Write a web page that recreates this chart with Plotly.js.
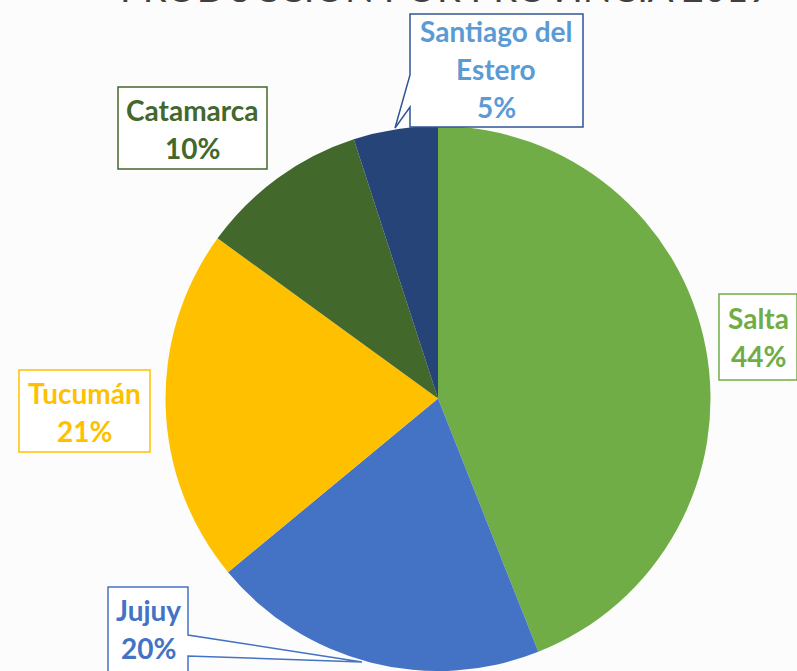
<!DOCTYPE html>
<html>
<head>
<meta charset="utf-8">
<script src="https://cdn.plot.ly/plotly-3.0.1.min.js"></script>
<style>html,body{margin:0;padding:0;background:#fcfcfc;}</style>
</head>
<body>
<div id="chart" style="width:797px;height:671px;"></div>
<script>
// ---- data ----
const provinces = ["Salta", "Jujuy", "Tucumán", "Catamarca", "Santiago del Estero"];
const shares = [44, 20, 21, 10, 5];
const labelLines = [["Salta"], ["Jujuy"], ["Tucumán"], ["Catamarca"], ["Santiago del", "Estero"]];
const titleText = "PRODUCCIÓN POR PROVINCIA 2019";

// ---- styles ----
const sliceColors = ["#70AD47", "#4472C4", "#FFC000", "#43682B", "#264478"];
const textColors  = ["#70AD47", "#4472C4", "#FFC000", "#43682B", "#5B9BD5"];
const boxColors   = ["#70AD47", "#4472C4", "#FFC000", "#43682B", "#2F5597"];

const W = 797, H = 671;
const px = x => x / W;
const py = y => 1 - y / H;

// box outlines (pixel geometry), with callouts where present
const boxes = [
  [[719,294],[797,294],[797,380],[719,380]],
  [[108,587],[188,587],[188,635],[362,662],[188,656],[188,676],[108,676]],
  [[19,370],[150,370],[150,452],[19,452]],
  [[118,87],[267,87],[267,169],[118,169]],
  [[410,14],[583,14],[583,127],[410,127],[410,107],[395,128],[410,75]]
];
const boxCenters = [[758,336],[148,628],[84,411],[192,128],[496,68]];
const lineGap = 38;

function pathOf(pts){
  return pts.map((p,i)=>(i?"L":"M")+px(p[0]).toFixed(5)+","+py(p[1]).toFixed(5)).join(" ")+" Z";
}

const shapes = boxes.map((pts,i)=>({
  type:"path", xref:"paper", yref:"paper", path:pathOf(pts),
  fillcolor:"#ffffff", line:{color:boxColors[i], width:1.5}, layer:"above"
}));

const annotations = [];
provinces.forEach((p,i)=>{
  const lines = labelLines[i].concat([shares[i] + "%"]);
  const n = lines.length;
  lines.forEach((t,k)=>{
    const cy = boxCenters[i][1] + (k - (n-1)/2) * lineGap + 1;
    annotations.push({
      xref:"paper", yref:"paper", x:px(boxCenters[i][0]), y:py(cy),
      xanchor:"center", yanchor:"middle", showarrow:false,
      text:"<b>"+t+"</b>",
      font:{family:"Lato, sans-serif", size:28, color:textColors[i]}
    });
  });
});
annotations.push({
  xref:"paper", yref:"paper", x:px(445), y:py(-13),
  xanchor:"center", yanchor:"middle", showarrow:false,
  text:titleText,
  font:{family:"Lato, sans-serif", size:38, color:"#404040"}
});

const R = 273, CX = 438, CY = 399;
const trace = {
  type:"pie", labels:provinces, values:shares, sort:false,
  direction:"clockwise", rotation:0,
  marker:{colors:sliceColors, line:{width:0}},
  textinfo:"none", hoverinfo:"label+percent",
  domain:{x:[px(CX-R), px(CX+R)], y:[Math.max(0,py(CY+R)), py(CY-R)]},
  showlegend:false
};

Plotly.newPlot("chart", [trace], {
  width:W, height:H, margin:{l:0,r:0,t:0,b:0},
  paper_bgcolor:"#fcfcfc", plot_bgcolor:"#fcfcfc",
  shapes:shapes, annotations:annotations, showlegend:false
}, {displayModeBar:false, staticPlot:true});
</script>
</body>
</html>
